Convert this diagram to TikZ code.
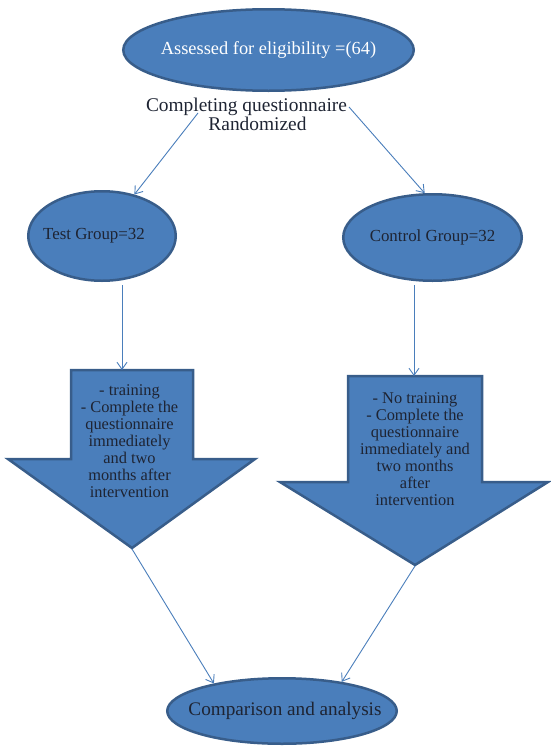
\documentclass[tikz,border=0pt]{standalone}
\usepackage{fontspec}
\setmainfont{Liberation Serif}
\usetikzlibrary{arrows.meta,shapes.geometric}
\definecolor{boxfill}{HTML}{4A7EBB}
\definecolor{boxline}{HTML}{385D8A}
\definecolor{conn}{HTML}{4A7EBB}
\definecolor{ink}{HTML}{1E2433}
\tikzset{
  ell/.style={ellipse, draw=boxline, fill=boxfill, line width=2.5pt, inner sep=0pt, text=ink},
  bigarrow/.style={draw=boxline, fill=boxfill, line width=2.5pt, line join=miter},
  conline/.style={draw=conn, line width=0.9pt, -{Straight Barb[length=7pt,width=10pt,line width=0.9pt]}},
  plain/.style={inner sep=0pt, text=ink},
  arrowtext/.style={inner sep=0pt, text=ink, align=center, font=\fontsize{16.4}{17.1}\selectfont}
}
\begin{document}
\begin{tikzpicture}[x=1pt,y=-1pt]
\useasboundingbox (0,0) rectangle (550,747);
% top ellipse
\node[ell, minimum width=290.5pt, minimum height=81.5pt, text=white,
      font=\fontsize{18.4}{20}\selectfont] (top) at (268.5,50) {\makebox[0pt][c]{Assessed for eligibility =(64)}};
% text below
\node[plain, anchor=base, font=\fontsize{19.4}{20}\selectfont] (t1) at (246.5,111.5) {Completing questionnaire};
\node[plain, anchor=base, font=\fontsize{19.4}{20}\selectfont] (t2) at (257.5,130) {Randomized};
% groups
\node[ell, minimum width=147.5pt, minimum height=89.5pt, font=\fontsize{16.9}{18}\selectfont] (tg) at (102,236) {\makebox[0pt][c]{Test Group=32\hspace*{16pt}}};
\node[ell, minimum width=178.5pt, minimum height=86.5pt, font=\fontsize{16.9}{18}\selectfont] (cg) at (432.5,237.5) {\makebox[0pt][c]{Control Group=32}};
% big arrows
\draw[bigarrow] (71,370) -- (193,370) -- (193,459) -- (255,459) -- (132,548) -- (8,459) -- (71,459) -- cycle;
\draw[bigarrow] (348,376) -- (482,376) -- (482,482) -- (548,482) -- (415,565) -- (280,482) -- (348,482) -- cycle;
\node[arrowtext] (la) at (129.5,441) {- training\\- Complete the\\questionnaire\\immediately\\and two\\months after\\intervention};
\node[arrowtext] (ra) at (415,449) {- No training\\- Complete the\\questionnaire\\immediately and\\two months\\after\\intervention};
% bottom ellipse
\node[ell, minimum width=229.5pt, minimum height=65.5pt, font=\fontsize{19.2}{20}\selectfont] (bot) at (282,711) {\makebox[0pt][c]{\hspace*{6pt}Comparison and analysis}};
% connector anchors
\coordinate (s1) at (198,113);
\coordinate (s2) at (349,107);
\coordinate (s3) at (122,285);
\coordinate (e3) at (122,370);
\coordinate (s4) at (414,285);
\coordinate (e4) at (414,376);
\coordinate (s5) at (132,549);
\coordinate (s6) at (415,566);
\draw[conline] (s1) -- (tg);
\draw[conline] (s2) -- (cg.100);
\draw[conline] (s3) -- (e3);
\draw[conline] (s4) -- (e4);
\draw[conline] (s5) -- (bot.158);
\draw[conline] (s6) -- (bot.26);
\end{tikzpicture}
\end{document}
